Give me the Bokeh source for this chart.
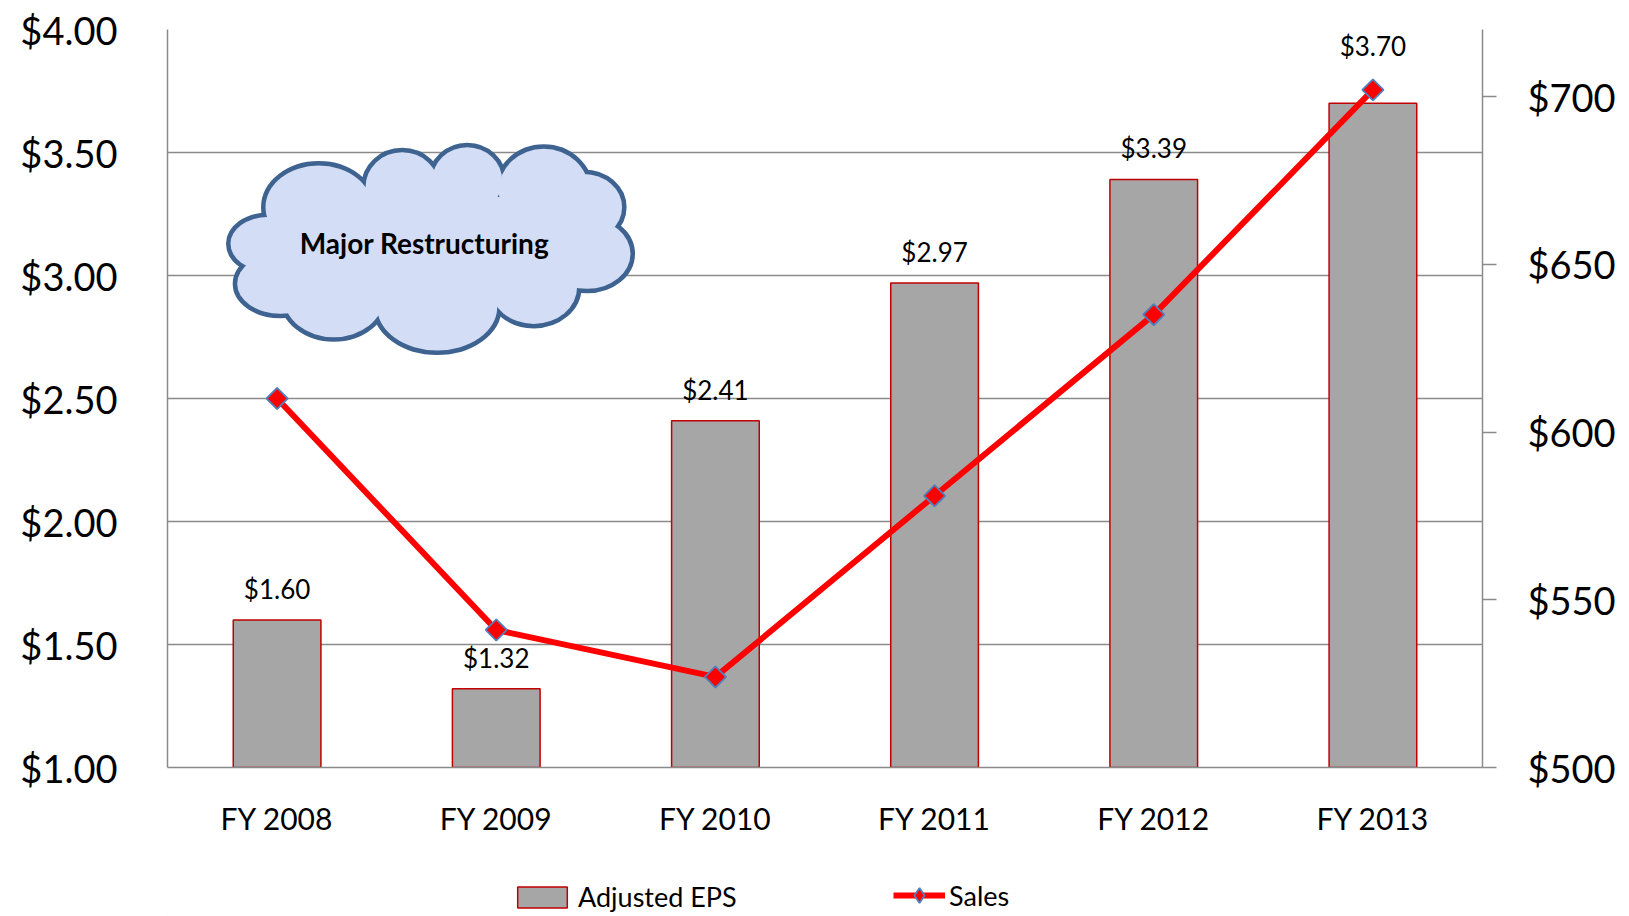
from bokeh.plotting import figure
from bokeh.models import (Range1d, LinearAxis, FixedTicker, NumeralTickFormatter,
                          Legend, LegendItem, ColumnDataSource)
from bokeh.layouts import column
from bokeh.core.properties import value
from bokeh.embed import file_html
from bokeh.resources import INLINE
import math

# ---------------- data ----------------
categories = ["FY 2008", "FY 2009", "FY 2010", "FY 2011", "FY 2012", "FY 2013"]
adjusted_eps = [1.60, 1.32, 2.41, 2.97, 3.39, 3.70]
sales = [610, 541, 527, 581, 635, 702]
eps_ticks = [1.0, 1.5, 2.0, 2.5, 3.0, 3.5, 4.0]
sales_ticks = [500, 550, 600, 650, 700]
annotation_text = "Major Restructuring"
series_names = ["Adjusted EPS", "Sales"]

# ---------------- layout ----------------
W = 1627
H_MAIN, H_LEG = 860, 54
FL, FT, FW, FH = 167, 29, 1315, 738
FONT = "Lato"
GRID = "#8a8a8a"
BAR_FILL, BAR_LINE = "#a6a6a6", "#c00000"
LINE_COL, MK_LINE = "#ff0000", "#4f81bd"

xs = [i + 1 for i in range(len(categories))]

p = figure(width=W, height=H_MAIN, x_range=Range1d(0.5, len(categories) + 0.5),
           y_range=Range1d(1.0, 4.0), output_backend="svg", toolbar_location=None,
           min_border_left=FL, min_border_right=W - FL - FW,
           min_border_top=FT, min_border_bottom=H_MAIN - FT - FH)
p.extra_y_ranges = {"sales": Range1d(500, 720)}
p.outline_line_color = None
p.background_fill_color = "white"
p.border_fill_color = "white"

# grid
p.xgrid.visible = False
p.ygrid.ticker = FixedTicker(ticks=eps_ticks)
p.ygrid.grid_line_color = GRID
p.ygrid.grid_line_width = 1.5

# left axis
ya = p.yaxis[0]
ya.ticker = FixedTicker(ticks=eps_ticks)
ya.formatter = NumeralTickFormatter(format="$0.00")
ya.major_tick_out = 0
ya.major_tick_in = 0
ya.minor_tick_out = 0
ya.minor_tick_in = 0
ya.major_label_standoff = 50
ya.major_label_text_font = FONT
ya.major_label_text_font_size = "38px"
ya.major_label_text_color = "black"
ya.axis_line_color = GRID
ya.axis_line_width = 1.5

# bottom axis
xa = p.xaxis[0]
xa.ticker = FixedTicker(ticks=xs)
xa.major_label_overrides = {x: c for x, c in zip(xs, categories)}
xa.major_tick_out = 0
xa.major_tick_in = 0
xa.minor_tick_out = 0
xa.minor_tick_in = 0
xa.major_label_standoff = 32
xa.major_label_text_font = FONT
xa.major_label_text_font_size = "30px"
xa.major_label_text_color = "black"
xa.axis_line_color = GRID
xa.axis_line_width = 1.5

# right axis
ra = LinearAxis(y_range_name="sales", ticker=FixedTicker(ticks=sales_ticks),
                formatter=NumeralTickFormatter(format="$0"))
ra.major_tick_out = 14
ra.major_tick_in = 0
ra.minor_tick_out = 0
ra.minor_tick_in = 0
ra.major_tick_line_color = GRID
ra.major_tick_line_width = 1.5
ra.major_label_standoff = 31
ra.major_label_text_font = FONT
ra.major_label_text_font_size = "38px"
ra.major_label_text_color = "black"
ra.axis_line_color = GRID
ra.axis_line_width = 1.5
p.add_layout(ra, "right")

# bars
src = ColumnDataSource(dict(x=xs, eps=adjusted_eps, sales=sales))
p.vbar(x="x", top="eps", bottom=1.0, width=0.4, source=src,
       fill_color=BAR_FILL, line_color=BAR_LINE, line_width=1.5)

# sales line
p.line(x="x", y="sales", source=src, y_range_name="sales",
       line_color=LINE_COL, line_width=6, line_join="round")
p.scatter(x="x", y="sales", source=src, y_range_name="sales", marker="square",
          size=15, angle=math.pi / 4, fill_color=LINE_COL,
          line_color=MK_LINE, line_width=1.8)

# data labels
offs = [-31, -31, -31, -31, -32, -57]
p.text(x=xs, y=adjusted_eps, text=[f"${v:.2f}" for v in adjusted_eps],
       y_offset=offs, text_font=value(FONT), text_font_size="26px",
       text_align="center", text_baseline="middle", text_color="black")

# ---------------- cloud annotation ----------------
def dx(px):
    return 0.5 + (px - FL) / FW * len(categories)

def dy(py):
    return 1.0 + ((FT + FH) - py) / FH * 3.0

lobes_px = [
    (266.7, 243.3, 36.7, 26.7),
    (318.3, 206.7, 53.3, 41.7),
    (401.7, 186.7, 36.7, 35.0),
    (466.7, 180.0, 35.0, 33.3),
    (543.3, 190.0, 45.0, 41.7),
    (583.3, 206.7, 38.3, 33.3),
    (586.7, 253.3, 43.3, 35.0),
    (533.3, 286.7, 43.3, 36.7),
    (436.7, 306.7, 60.0, 43.3),
    (333.3, 296.7, 50.0, 40.0),
    (280.0, 283.3, 43.3, 30.0),
    (430.0, 250.0, 150.0, 60.0),
]
cloud = ColumnDataSource(dict(
    x=[dx(a) for a, b, c, d in lobes_px],
    y=[dy(b) for a, b, c, d in lobes_px],
    w=[2 * c for a, b, c, d in lobes_px],
    h=[2 * d for a, b, c, d in lobes_px],
))
p.ellipse(x="x", y="y", width="w", height="h", width_units="screen",
          height_units="screen", source=cloud, fill_color="#d3ddf6",
          line_color="#3e6391", line_width=9)
p.ellipse(x="x", y="y", width="w", height="h", width_units="screen",
          height_units="screen", source=cloud, fill_color="#d3ddf6",
          line_color=None)
p.text(x=[dx(424)], y=[dy(242)], text=[annotation_text], text_font=value(FONT),
       text_font_style="bold", text_font_size="28px", text_align="center",
       text_baseline="middle", text_color="black")

# ---------------- legend strip ----------------
q = figure(width=W, height=H_LEG, x_range=Range1d(0, 1), y_range=Range1d(0, 1),
           output_backend="svg", toolbar_location=None,
           x_axis_location=None, y_axis_location=None,
           min_border=0, min_border_left=0, min_border_right=0,
           min_border_top=0, min_border_bottom=0)
q.outline_line_color = None
q.xgrid.visible = False
q.ygrid.visible = False
# a single off-screen point so that the legend swatches have styles to draw
hidden = ColumnDataSource(dict(x=[-5.0], y=[-5.0], top=[-4.0]))
lb = q.vbar(x="x", top="top", bottom=-5.0, width=0.1, source=hidden,
            fill_color=BAR_FILL, line_color=BAR_LINE, line_width=1.5)
ll = q.line(x="x", y="y", source=hidden, line_color=LINE_COL, line_width=6)
lm = q.scatter(x="x", y="y", source=hidden, marker="diamond", size=15,
               fill_color=LINE_COL, line_color=MK_LINE, line_width=1.8)

# the column layout aligns this strip's frame with the main frame (x = FL)
common = dict(orientation="horizontal", label_text_font=FONT,
              label_text_font_size="27px", label_text_color="black",
              padding=0, margin=0,
              border_line_color=None, background_fill_alpha=0)
leg1 = Legend(items=[LegendItem(label=series_names[0], renderers=[lb])],
              location=(511 - FL, 1), glyph_width=62, glyph_height=26,
              label_standoff=5, **common)
leg2 = Legend(items=[LegendItem(label=series_names[1], renderers=[ll, lm])],
              location=(893 - FL, 0), glyph_width=52, glyph_height=38,
              label_standoff=4, **common)
q.add_layout(leg1, "center")
q.add_layout(leg2, "center")

layout = column(p, q, spacing=0)
open("out.html", "w").write(file_html(layout, INLINE))
